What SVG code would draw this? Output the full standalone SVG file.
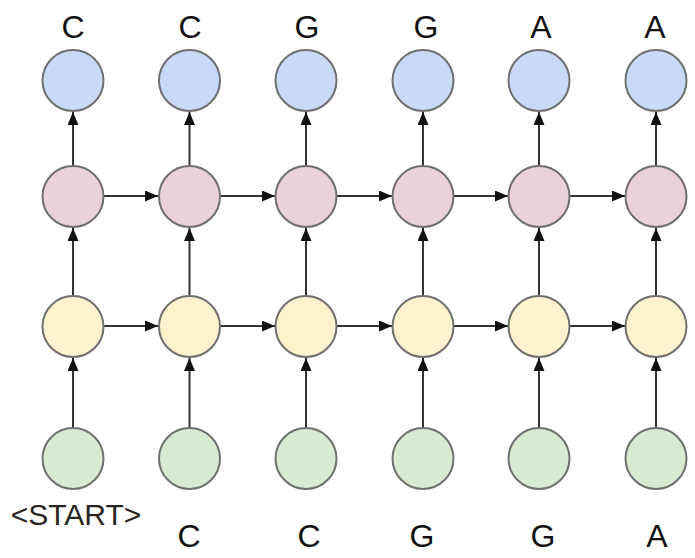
<svg xmlns="http://www.w3.org/2000/svg" width="695" height="558" viewBox="0 0 695 558">
<style>
circle{stroke:#6f6f6f;stroke-width:2}
.b{fill:#c9daf8}.p{fill:#ead1dc}.y{fill:#fff2cc}.g{fill:#d9ead3}
.e{stroke:#333;stroke-width:2;fill:none;marker-end:url(#ah)}
text{font-family:"Liberation Sans",Arial,sans-serif;font-size:32px;fill:#111;text-anchor:middle}
</style>
<defs>
<marker id="ah" markerWidth="13" markerHeight="11" refX="13" refY="5.5" orient="auto" markerUnits="userSpaceOnUse">
<path d="M0,0 L13,5.5 L0,11 Z" fill="#111"/>
</marker>
</defs>
<rect width="695" height="558" fill="#fff"/>
<g id="connectors">
<path class="e" d="M73,166 V112"/><path class="e" d="M189.5,166 V112"/><path class="e" d="M306,166 V112"/><path class="e" d="M423,166 V112"/><path class="e" d="M539,166 V112"/><path class="e" d="M656,166 V112"/>
<path class="e" d="M73,295 V228"/><path class="e" d="M189.5,295 V228"/><path class="e" d="M306,295 V228"/><path class="e" d="M423,295 V228"/><path class="e" d="M539,295 V228"/><path class="e" d="M656,295 V228"/>
<path class="e" d="M73,428 V358"/><path class="e" d="M189.5,428 V358"/><path class="e" d="M306,428 V358"/><path class="e" d="M423,428 V358"/><path class="e" d="M539,428 V358"/><path class="e" d="M656,428 V358"/>
<path class="e" d="M104,196 H158"/><path class="e" d="M220.5,196 H275"/><path class="e" d="M337,196 H392"/><path class="e" d="M454,196 H508"/><path class="e" d="M570,196 H625"/>
<path class="e" d="M104,326 H158"/><path class="e" d="M220.5,326 H275"/><path class="e" d="M337,326 H392"/><path class="e" d="M454,326 H508"/><path class="e" d="M570,326 H625"/>
</g>
<g id="out1"><circle class="b" cx="73" cy="80.5" r="30.5"/><text x="73" y="38">C</text></g>
<g id="out2"><circle class="b" cx="189.5" cy="80.5" r="30.5"/><text x="190" y="38">C</text></g>
<g id="out3"><circle class="b" cx="306" cy="80.5" r="30.5"/><text x="307" y="38">G</text></g>
<g id="out4"><circle class="b" cx="423" cy="80.5" r="30.5"/><text x="426" y="38">G</text></g>
<g id="out5"><circle class="b" cx="539" cy="80.5" r="30.5"/><text x="541" y="38">A</text></g>
<g id="out6"><circle class="b" cx="656" cy="80.5" r="30.5"/><text x="655" y="38">A</text></g>
<g id="h2_1"><circle class="p" cx="73" cy="196.5" r="30.5"/></g>
<g id="h2_2"><circle class="p" cx="189.5" cy="196.5" r="30.5"/></g>
<g id="h2_3"><circle class="p" cx="306" cy="196.5" r="30.5"/></g>
<g id="h2_4"><circle class="p" cx="423" cy="196.5" r="30.5"/></g>
<g id="h2_5"><circle class="p" cx="539" cy="196.5" r="30.5"/></g>
<g id="h2_6"><circle class="p" cx="656" cy="196.5" r="30.5"/></g>
<g id="h1_1"><circle class="y" cx="73" cy="326.5" r="30.5"/></g>
<g id="h1_2"><circle class="y" cx="189.5" cy="326.5" r="30.5"/></g>
<g id="h1_3"><circle class="y" cx="306" cy="326.5" r="30.5"/></g>
<g id="h1_4"><circle class="y" cx="423" cy="326.5" r="30.5"/></g>
<g id="h1_5"><circle class="y" cx="539" cy="326.5" r="30.5"/></g>
<g id="h1_6"><circle class="y" cx="656" cy="326.5" r="30.5"/></g>
<g id="in1"><circle class="g" cx="73" cy="458.5" r="30.5"/><text x="76" y="525" style="font-size:30px;fill:#2a2520">&lt;START&gt;</text></g>
<g id="in2"><circle class="g" cx="189.5" cy="458.5" r="30.5"/><text x="189" y="547">C</text></g>
<g id="in3"><circle class="g" cx="306" cy="458.5" r="30.5"/><text x="309" y="547">C</text></g>
<g id="in4"><circle class="g" cx="423" cy="458.5" r="30.5"/><text x="422" y="547">G</text></g>
<g id="in5"><circle class="g" cx="539" cy="458.5" r="30.5"/><text x="543" y="547">G</text></g>
<g id="in6"><circle class="g" cx="656" cy="458.5" r="30.5"/><text x="657" y="547">A</text></g>
</svg>
